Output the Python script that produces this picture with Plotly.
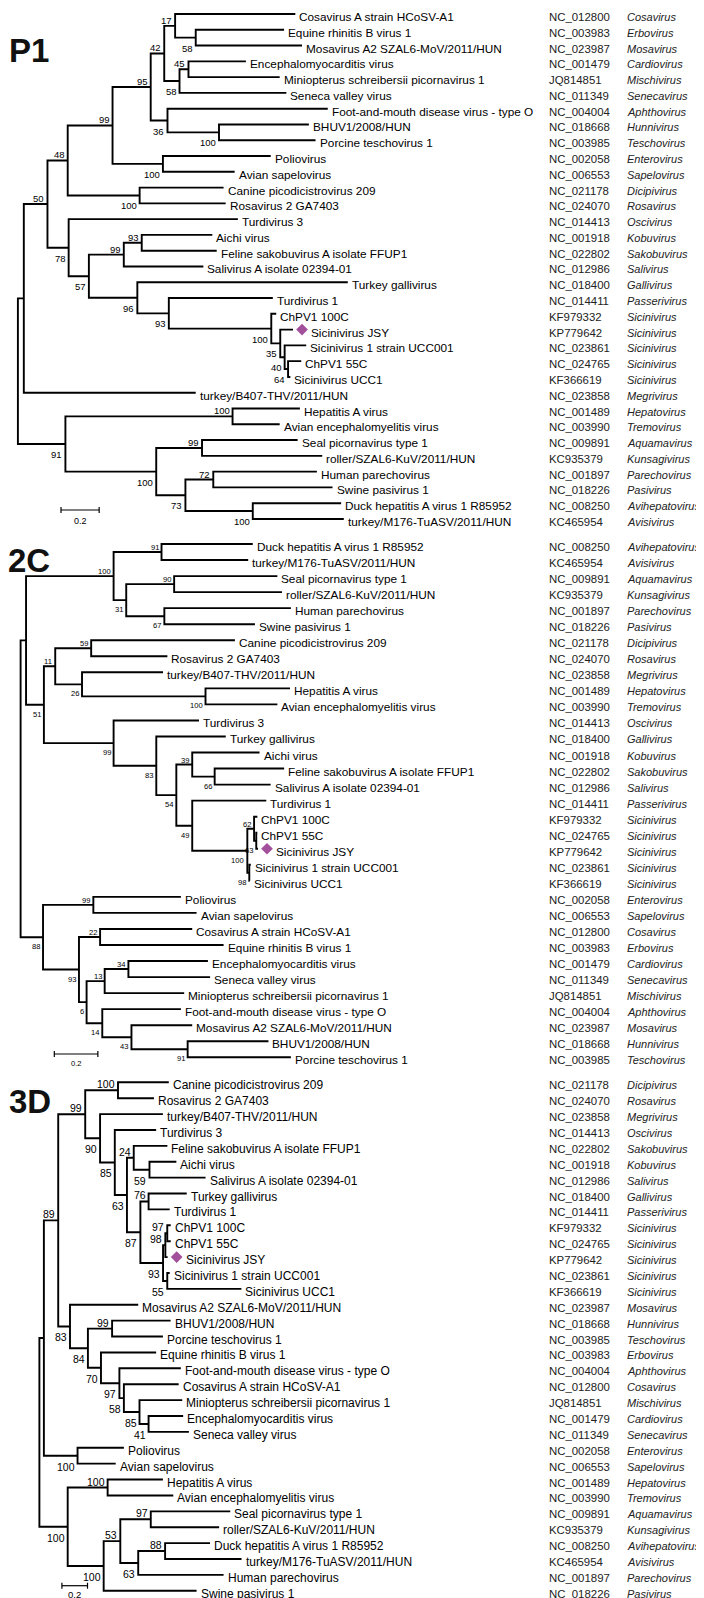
import plotly.graph_objects as go

# ---------------- data ----------------
virus_names = [
    "Cosavirus A strain HCoSV-A1", "Equine rhinitis B virus 1", "Mosavirus A2 SZAL6-MoV/2011/HUN",
    "Encephalomyocarditis virus", "Miniopterus schreibersii picornavirus 1", "Seneca valley virus",
    "Foot-and-mouth disease virus - type O", "BHUV1/2008/HUN", "Porcine teschovirus 1",
    "Poliovirus", "Avian sapelovirus", "Canine picodicistrovirus 209", "Rosavirus 2 GA7403",
    "Turdivirus 3", "Aichi virus", "Feline sakobuvirus A isolate FFUP1", "Salivirus A isolate 02394-01",
    "Turkey gallivirus", "Turdivirus 1", "ChPV1 100C", "Sicinivirus JSY", "Sicinivirus 1 strain UCC001",
    "ChPV1 55C", "Sicinivirus UCC1", "turkey/B407-THV/2011/HUN", "Hepatitis A virus",
    "Avian encephalomyelitis virus", "Seal picornavirus type 1", "roller/SZAL6-KuV/2011/HUN",
    "Human parechovirus", "Swine pasivirus 1", "Duck hepatitis A virus 1 R85952", "turkey/M176-TuASV/2011/HUN",
]
virus_accessions = [
    "NC_012800", "NC_003983", "NC_023987", "NC_001479", "JQ814851", "NC_011349", "NC_004004",
    "NC_018668", "NC_003985", "NC_002058", "NC_006553", "NC_021178", "NC_024070", "NC_014413",
    "NC_001918", "NC_022802", "NC_012986", "NC_018400", "NC_014411", "KF979332", "KP779642",
    "NC_023861", "NC_024765", "KF366619", "NC_023858", "NC_001489", "NC_003990", "NC_009891",
    "KC935379", "NC_001897", "NC_018226", "NC_008250", "KC465954",
]
virus_genera = [
    "Cosavirus", "Erbovirus", "Mosavirus", "Cardiovirus", "Mischivirus", "Senecavirus", "Aphthovirus",
    "Hunnivirus", "Teschovirus", "Enterovirus", "Sapelovirus", "Dicipivirus", "Rosavirus", "Oscivirus",
    "Kobuvirus", "Sakobuvirus", "Salivirus", "Gallivirus", "Passerivirus", "Sicinivirus", "Sicinivirus",
    "Sicinivirus", "Sicinivirus", "Sicinivirus", "Megrivirus", "Hepatovirus", "Tremovirus", "Aquamavirus",
    "Kunsagivirus", "Parechovirus", "Pasivirus", "Avihepatovirus", "Avisivirus",
]
highlight_virus = 20  # Sicinivirus JSY

# ----- P1 tree: leaf order, tip depths, clades [id, children, depth, bootstrap]
p1_order = list(range(33))
p1_tip_depth = [1.454, 1.395, 1.489, 1.195, 1.372, 1.407, 1.624, 1.525, 1.560, 1.325, 1.136,
                1.078, 1.089, 1.153, 1.019, 1.042, 0.972, 1.729, 1.336, 1.354, 1.442, 1.511,
                1.485, 1.428, 0.932, 1.478, 1.372, 1.466, 1.595, 1.567, 1.649, 1.694, 1.708]
p1_clades = [
    ["a", [1, 2], 0.932, "58"], ["b", [0, "a"], 0.824, "17"], ["c", [3, 4], 0.894, "45"],
    ["d", ["c", 5], 0.847, "58"], ["e", ["b", "d"], 0.767, "42"], ["f", [7, 8], 1.054, "100"],
    ["g", [6, "f"], 0.784, "36"], ["h", ["e", "g"], 0.696, "95"], ["i", [9, 10], 0.760, "100"],
    ["j", ["h", "i"], 0.496, "99"], ["k", [11, 12], 0.638, "100"], ["l", ["j", "k"], 0.261, "48"],
    ["m", [14, 15], 0.649, "93"], ["n", ["m", 16], 0.555, "99"], ["o", [22, 23], 1.416, "64"],
    ["p", [21, "o"], 1.398, "40"], ["q", [20, "p"], 1.375, "35"], ["r", [19, "q"], 1.328, "100"],
    ["s", [18, "r"], 0.791, "93"], ["t", [17, "s"], 0.626, "96"], ["u", ["n", "t"], 0.372, "57"],
    ["v", [13, "u"], 0.266, "78"], ["w", ["l", "v"], 0.155, "50"], ["x", ["w", 24], 0.031, ""],
    ["y", [25, 26], 1.125, "100"], ["z", [27, 28], 0.965, "99"], ["A", [29, 30], 1.024, "72"],
    ["B", [31, 32], 1.231, "100"], ["C", ["A", "B"], 0.878, "73"], ["D", ["z", "C"], 0.725, "100"],
    ["E", ["y", "D"], 0.249, "91"], ["root", ["x", "E"], 0.0, ""],
]

# ----- 2C tree
c2_order = [31, 32, 27, 28, 29, 30, 11, 12, 24, 25, 26, 13, 17, 14, 15, 16, 18, 19, 22, 20, 21, 23,
            9, 10, 0, 1, 3, 5, 4, 6, 2, 7, 8]
c2_tip_depth = [1.066, 1.045, 1.179, 1.200, 1.241, 1.076, 0.984, 0.674, 0.654, 1.237, 1.179,
                0.819, 0.942, 1.097, 1.210, 1.148, 1.128, 1.087, 1.087, 1.090, 1.057, 1.052,
                0.736, 0.808, 0.788, 0.932, 0.860, 0.870, 0.751, 0.736, 0.788, 1.138, 1.241]
c2_clades = [
    ["a", [0, 1], 0.647, "91"], ["b", [2, 3], 0.705, "90"], ["c", [4, 5], 0.660, "67"],
    ["d", ["b", "c"], 0.485, "31"], ["e", ["a", "d"], 0.427, "100"], ["f", [6, 7], 0.324, "59"],
    ["g", [9, 10], 0.849, "100"], ["h", [8, "g"], 0.282, "26"], ["i", ["f", "h"], 0.159, "11"],
    ["j", [14, 15], 0.891, "66"], ["k", [13, "j"], 0.788, "39"], ["l", [18, 19], 1.082, "63"],
    ["m", [17, "l"], 1.072, "62"], ["n", [20, 21], 1.050, "98"], ["o", ["m", "n"], 1.041, "100"],
    ["p", [16, "o"], 0.788, "49"], ["q", ["k", "p"], 0.715, "54"], ["r", [12, "q"], 0.623, "83"],
    ["s", [11, "r"], 0.427, "99"], ["t", ["i", "s"], 0.107, "51"], ["u", ["e", "t"], 0.025, ""],
    ["v", [22, 23], 0.334, "99"], ["w", [24, 25], 0.365, "22"], ["x", [26, 27], 0.495, "34"],
    ["y", ["x", 28], 0.386, "13"], ["z", [31, 32], 0.767, "91"], ["A", [30, "z"], 0.509, "43"],
    ["B", [29, "A"], 0.375, "14"], ["C", ["y", "B"], 0.303, "6"], ["D", ["w", "C"], 0.268, "93"],
    ["E", ["v", "D"], 0.103, "88"], ["root", ["u", "E"], 0.0, ""],
]

# ----- 3D tree
d3_order = [11, 12, 24, 13, 15, 14, 16, 17, 18, 19, 22, 20, 21, 23, 2, 7, 8, 1, 6, 0, 4, 3, 5,
            9, 10, 25, 26, 27, 28, 31, 32, 29, 30]
d3_tip_depth = [1.011, 0.895, 0.965, 0.912, 1.000, 1.070, 1.298, 1.151, 1.018, 1.026, 1.026,
                1.002, 1.018, 1.578, 0.772, 1.025, 0.965, 0.912, 1.105, 1.088, 1.116, 1.123,
                1.168, 0.660, 0.596, 0.965, 1.046, 1.491, 1.404, 1.333, 1.579, 1.439, 1.228]
d3_clades = [
    ["a", [0, 1], 0.614, "100"], ["b", [5, 6], 0.860, "59"], ["c", [4, "b"], 0.737, "24"],
    ["d", [7, 8], 0.853, "76"], ["e", [9, 10], 0.999, "97"], ["f", ["e", 11], 0.984, "98"],
    ["g", [12, 13], 0.999, "55"], ["h", ["f", "g"], 0.966, "93"], ["i", ["d", "h"], 0.789, "87"],
    ["j", ["c", "i"], 0.684, "63"], ["k", [3, "j"], 0.589, "85"], ["l", [2, "k"], 0.474, "90"],
    ["m", ["a", "l"], 0.358, "99"], ["n", [15, 16], 0.568, "99"], ["o", [21, 22], 0.853, "41"],
    ["p", [20, "o"], 0.782, "85"], ["q", [19, "p"], 0.660, "58"], ["r", [18, "q"], 0.625, "97"],
    ["s", [17, "r"], 0.481, "70"], ["t", ["n", "s"], 0.379, "84"], ["u", [14, "t"], 0.239, "83"],
    ["v", ["m", "u"], 0.147, "89"], ["w", [23, 24], 0.298, "100"], ["x", ["v", "w"], 0.035, ""],
    ["y", [25, 26], 0.533, "100"], ["z", [27, 28], 0.870, "97"], ["A", [29, 30], 0.982, "88"],
    ["B", ["A", 31], 0.772, "63"], ["C", ["z", "B"], 0.632, "53"], ["D", ["C", 32], 0.502, "100"],
    ["E", ["y", "D"], 0.221, "100"], ["root", ["x", "E"], 0.0, ""],
]

scale_bar_length = 0.2
scale_bar_label = "0.2"

# ---------------- layout / drawing ----------------
W, H = 704, 1598
FONT = "Liberation Sans, Arial, Helvetica, sans-serif"

panels = [
    dict(title="P1", order=p1_order, tips=p1_tip_depth, clades=p1_clades,
         root_px=9.9, ppu=190.8, y0=6.0, row=15.78, leaf_font=11.8, boot_font=9.5,
         title_px=(-1, 42), bar_px=(53.0, 502.0), bar_font=9.0, bar_gap=11),
    dict(title="2C", order=c2_order, tips=c2_tip_depth, clades=c2_clades,
         root_px=12.6, ppu=217.8, y0=536.0, row=16.04, leaf_font=11.8, boot_font=7.6,
         title_px=(-2, 552), bar_px=(46.3, 1046.0), bar_font=7.6, bar_gap=9),
    dict(title="3D", order=d3_order, tips=d3_tip_depth, clades=d3_clades,
         root_px=31.4, ppu=128.0, y0=1074.3, row=15.89, leaf_font=12.0, boot_font=10.5,
         title_px=(-1, 1093), bar_px=(53.9, 1577.7), bar_font=9.5, bar_gap=9),
]

fig = go.Figure()
annotations = []
layout_axes = {}

for k, P in enumerate(panels, start=1):
    xa = "x" if k == 1 else f"x{k}"
    ya = "y" if k == 1 else f"y{k}"
    ppu, row = P["ppu"], P["row"]
    xr = [-P["root_px"] / ppu, (W - P["root_px"]) / ppu]
    yr = [(H - P["y0"]) / row, -P["y0"] / row]
    xkey = "xaxis" if k == 1 else f"xaxis{k}"
    ykey = "yaxis" if k == 1 else f"yaxis{k}"
    layout_axes[xkey] = dict(domain=[0, 1], range=xr, visible=False, fixedrange=True, anchor=ya)
    layout_axes[ykey] = dict(domain=[0, 1], range=yr, visible=False, fixedrange=True, anchor=xa)
    if k > 1:
        layout_axes[xkey]["overlaying"] = "x"
        layout_axes[ykey]["overlaying"] = "y"

    X, Y = {}, {}
    for r, d in enumerate(P["tips"]):
        X[r], Y[r] = d, float(r)
    pos = {}
    xs, ys = [], []
    for cid, kids, d, sup in P["clades"]:
        a, b = kids
        X[cid] = d
        Y[cid] = (Y[a] + Y[b]) / 2
        pos[a], pos[b] = "first", "last"
        xs += [X[a], d, d, X[b], None]
        ys += [Y[a], Y[a], Y[b], Y[b], None]
    fig.add_trace(go.Scatter(x=xs, y=ys, xaxis=xa, yaxis=ya, mode="lines",
                             line=dict(color="black", width=1.9), hoverinfo="skip",
                             showlegend=False))

    # bootstrap values
    for cid, kids, d, sup in P["clades"]:
        if not sup or cid not in pos:
            continue
        above = pos[cid] == "first"
        annotations.append(dict(
            x=d, y=Y[cid], xref=xa, yref=ya, text=sup, showarrow=False,
            xanchor="right", yanchor="bottom" if above else "top",
            xshift=-2, yshift=-1 if above else -4, borderpad=0,
            font=dict(family=FONT, size=P["boot_font"], color="black")))

    # leaves
    for r, m in enumerate(P["order"]):
        tip = P["tips"][r]
        shift = 2
        if m == highlight_virus:
            fig.add_trace(go.Scatter(x=[tip + 9 / ppu], y=[float(r)], xaxis=xa, yaxis=ya,
                                     mode="markers", hoverinfo="skip", showlegend=False,
                                     marker=dict(symbol="diamond", size=9, color="#a2509c")))
            shift = 16
        annotations.append(dict(
            x=tip, y=r, xref=xa, yref=ya, text=virus_names[m], showarrow=False,
            xanchor="left", yanchor="middle", xshift=shift, yshift=-3,
            font=dict(family=FONT, size=P["leaf_font"], color="black")))
        annotations.append(dict(
            x=539 / W, y=r, xref="paper", yref=ya, text=virus_accessions[m], showarrow=False,
            xanchor="left", yanchor="middle", yshift=-3,
            font=dict(family=FONT, size=11.4, color="#222222")))
        annotations.append(dict(
            x=617 / W, y=r, xref="paper", yref=ya, text=f"<i>{virus_genera[m]}</i>", showarrow=False,
            xanchor="left", yanchor="middle", yshift=-3,
            font=dict(family=FONT, size=11.0, color="#222222")))

    # panel title
    annotations.append(dict(
        x=P["title_px"][0] / W, y=1 - P["title_px"][1] / H, xref="paper", yref="paper",
        text=f"<b>{P['title']}</b>", showarrow=False, xanchor="left", yanchor="middle",
        font=dict(family=FONT, size=33, color="#111111")))

    # scale bar
    bx0 = (P["bar_px"][0] - P["root_px"]) / ppu
    bx1 = bx0 + scale_bar_length
    by = (P["bar_px"][1] - P["y0"]) / row
    tick = 3.0 / row
    fig.add_trace(go.Scatter(
        x=[bx0, bx0, None, bx0, bx1, None, bx1, bx1],
        y=[by - tick, by + tick, None, by, by, None, by - tick, by + tick],
        xaxis=xa, yaxis=ya, mode="lines", line=dict(color="black", width=1.2),
        hoverinfo="skip", showlegend=False))
    annotations.append(dict(
        x=(bx0 + bx1) / 2, y=by, xref=xa, yref=ya, text=scale_bar_label, showarrow=False,
        xanchor="center", yanchor="middle", yshift=-P["bar_gap"], borderpad=0,
        font=dict(family=FONT, size=P["bar_font"], color="black")))

fig.update_layout(
    width=W, height=H, margin=dict(l=0, r=0, t=0, b=0),
    paper_bgcolor="white", plot_bgcolor="white", showlegend=False,
    annotations=annotations, **layout_axes)

fig.write_html("out.html", config={"displayModeBar": False})
